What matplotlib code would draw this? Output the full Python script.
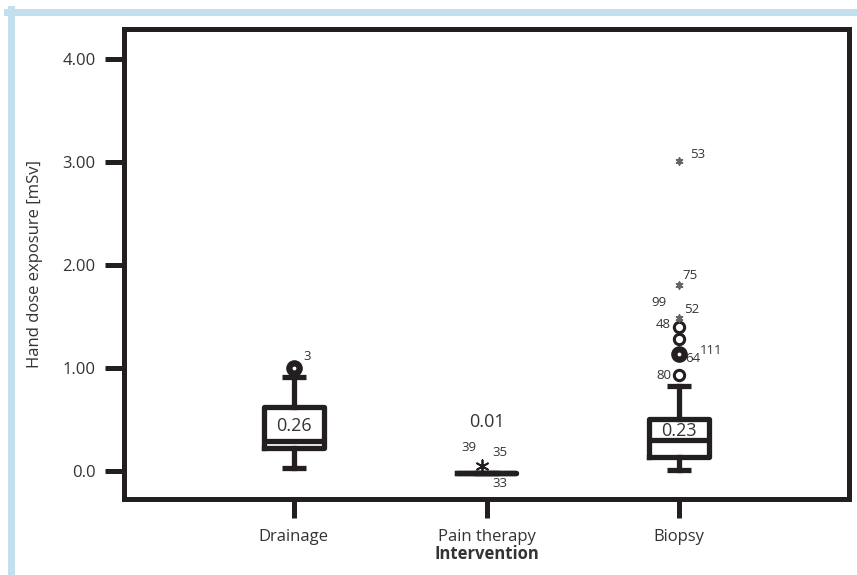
import matplotlib.pyplot as plt
from matplotlib.lines import Line2D

plt.rcParams['font.family'] = ['Open Sans', 'DejaVu Sans']

# box statistics (mSv)
groups = ["Drainage", "Pain therapy", "Biopsy"]
q1 = [0.22, -0.015, 0.14]
med = [0.29, -0.015, 0.30]
q3 = [0.62, -0.015, 0.51]
whislo = [0.03, -0.015, 0.01]
whishi = [0.91, -0.015, 0.83]
median_labels = ["0.26", "0.01", "0.23"]

# outliers: (group position, value, case id)
circle_grp = [3, 3, 3]
circle_val = [0.93, 1.28, 1.40]
circle_ids = ["80", "", "48"]
big_grp = [1, 3]
big_val = [1.00, 1.14]
big_ids = ["3", "64"]
star_grp = [1.975, 3, 3, 3]
star_val = [0.05, 1.49, 1.81, 3.01]
star_ids = ["39", "99", "75", "53"]
extra_ids = ["35", "33", "52", "111"]
extra_grp = [2, 2, 3, 3]
extra_val = [0.05, -0.015, 1.49, 1.14]

ink = '#231f20'
txt = '#333333'

fig = plt.figure(figsize=(8.57, 5.75), dpi=100)
ax = fig.add_axes([0.1447, 0.1322, 0.9907 - 0.1447, 0.9496 - 0.1322])

stats = []
for i in range(3):
    stats.append(dict(label=groups[i], q1=q1[i], med=med[i], q3=q3[i],
                      whislo=whislo[i], whishi=whishi[i], fliers=[]))

lw = 3.8
ax.bxp(stats, positions=[1, 2, 3], widths=0.31, capwidths=0.125,
       showfliers=False,
       boxprops=dict(color=ink, linewidth=lw),
       medianprops=dict(color=ink, linewidth=lw, solid_capstyle='butt'),
       whiskerprops=dict(color=ink, linewidth=lw),
       capprops=dict(color=ink, linewidth=lw, solid_capstyle='butt'))

# median value labels
lab_y = [0.44, 0.48, 0.39]
for i, s in enumerate(median_labels):
    ax.text(i + 1, lab_y[i], s, ha='center', va='center', fontsize=13, color=txt)

# outliers
ax.scatter(circle_grp, circle_val, s=55, facecolors='white', edgecolors=ink,
           linewidths=2.2, zorder=5)
ax.scatter(big_grp, big_val, s=120, color=ink, zorder=5)
ax.scatter(big_grp, big_val, s=3, color='white', zorder=6)
star_size = [80, 22, 22, 22]
star_col = [ink, '#666666', '#666666', '#666666']
for g, v, sz, c in zip(star_grp, star_val, star_size, star_col):
    ax.scatter([g], [v], s=sz, marker=(6, 2, 0), color=c, linewidths=1.3, zorder=5)

# case id labels (offsets in points)
fs = 9.5
lab_off = {"3": (9.4, 8.6), "64": (9.5, -3.8), "80": (-11, 0), "48": (-11.5, 2),
           "39": (-9.4, 13), "99": (-15, 11), "75": (8, 6.5), "53": (13, 4.3)}
for g, v, s in zip(circle_grp + big_grp + star_grp,
                   circle_val + big_val + star_val,
                   circle_ids + big_ids + star_ids):
    if not s:
        continue
    dx, dy = lab_off[s]
    ax.annotate(s, (g, v), xytext=(dx, dy), textcoords='offset points',
                ha='center', va='center', fontsize=fs, color=txt)
extra_off = [(9.4, 9.4), (9.4, -8), (8.6, 5.8), (22.5, 2.5)]
for g, v, s, (dx, dy) in zip(extra_grp, extra_val, extra_ids, extra_off):
    ax.annotate(s, (g, v), xytext=(dx, dy), textcoords='offset points',
                ha='center', va='center', fontsize=fs, color=txt)

ax.set_xlim(0.12, 3.88)
ax.set_ylim(-0.27, 4.29)
ax.set_yticks([0, 1, 2, 3, 4])
ax.set_yticklabels(["0.0", "1.00", "2.00", "3.00", "4.00"])
ax.set_xticks([1, 2, 3])
ax.set_xticklabels(groups)
ax.tick_params(axis='both', length=13.5, width=3.6, color=ink, labelsize=12,
               labelcolor=txt)
ax.tick_params(axis='y', pad=7)
ax.tick_params(axis='x', pad=8)
for sp in ax.spines.values():
    sp.set_linewidth(3.6)
    sp.set_color(ink)

ax.set_ylabel("Hand dose exposure [mSv]", fontsize=12, color=txt, labelpad=14)
ax.set_xlabel("Intervention", fontsize=12, color=txt, fontweight='bold', labelpad=0)

# light blue frame along top and left edges
blue = '#c2dfee'
fig.add_artist(Line2D([7 / 857, 1], [1 - 12 / 575, 1 - 12 / 575], color=blue,
                      linewidth=5, transform=fig.transFigure))
fig.add_artist(Line2D([10.5 / 857, 10.5 / 857], [0, 1 - 9 / 575], color=blue,
                      linewidth=5, transform=fig.transFigure))

fig.savefig("out.png", dpi=100)
